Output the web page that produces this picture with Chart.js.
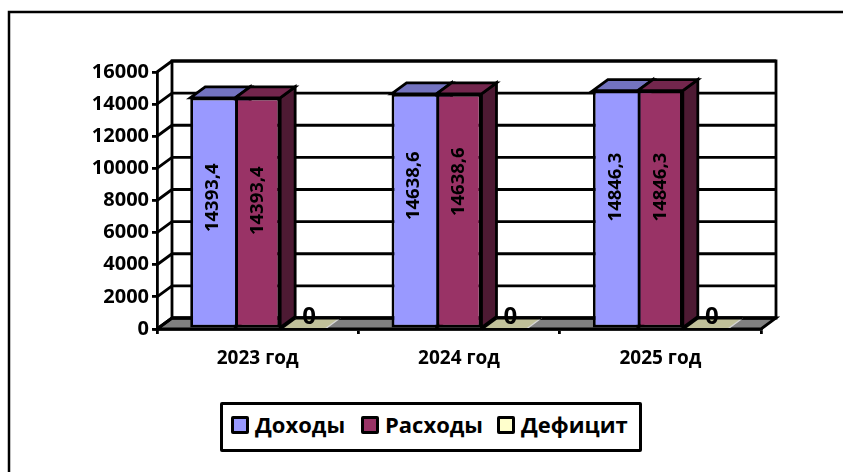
<!DOCTYPE html>
<html lang="ru">
<head>
<meta charset="utf-8">
<title>Доходы и расходы</title>
<script src="https://cdn.jsdelivr.net/npm/chart.js@4"></script>
<style>
  html, body { margin: 0; background: #fff; }
  #wrap { position: relative; width: 843px; height: 472px; overflow: hidden; }
  #legend {
    position: absolute; left: 220px; top: 402px; width: 416px; height: 44px;
    border: 3px solid #000; border-radius: 2px; background: #fff;
    font: bold 22px "Open Sans", sans-serif; color: #000;
  }
  #legend span { position: absolute; top: 4px; line-height: 30px; white-space: nowrap; }
  #legend i { position: absolute; top: 11px; width: 12px; height: 12px; border: 3px solid #000; border-radius: 2px; }
</style>
</head>
<body>
<div id="wrap">
  <canvas id="c" width="843" height="472"></canvas>
  <div id="legend"></div>
</div>
<script>
  const categories = ["2023 год", "2024 год", "2025 год"];
  const income = [14393.4, 14638.6, 14846.3];
  const expense = [14393.4, 14638.6, 14846.3];
  const deficit = [0, 0, 0];
  const seriesNames = ["Доходы", "Расходы", "Дефицит"];
  const yTicks = [0, 2000, 4000, 6000, 8000, 10000, 12000, 14000, 16000];

  const frontColors = ["#9999ff", "#993366", "#ffffcc"];
  const topColors = ["#7373c0", "#73264d", "#c0c099"];
  const sideColors = ["#4d4d80", "#4d1a33", "#808066"];
  // the labels do not sit exactly mid-bar in the original
  const labelShift = [[-15, -25, -22], [-12, -29, -22], [0, 0, 0]];
  const legendBoxX = [8, 138, 274];
  const legendTextX = [32, 162, 298];

  const DX = 15, DY = 11; // depth of the fake 3d
  const LINE = 2.8;
  const FONT = '"Open Sans", sans-serif';

  function poly(ctx, pts, fill) {
    ctx.beginPath();
    pts.forEach((p, i) => i ? ctx.lineTo(p[0], p[1]) : ctx.moveTo(p[0], p[1]));
    ctx.closePath();
    if (fill) { ctx.fillStyle = fill; ctx.fill(); }
  }

  function fmtValue(v) {
    return v === 0 ? "0" : v.toFixed(1).replace(".", ",");
  }

  const box3d = {
    id: "box3d",
    beforeDraw(chart) {
      // frame: only top and left edges are in the picture
      const ctx = chart.ctx;
      ctx.save();
      ctx.strokeStyle = "#000";
      ctx.lineWidth = 2.5;
      ctx.beginPath();
      ctx.moveTo(9, 472); ctx.lineTo(9, 12); ctx.lineTo(843, 12);
      ctx.stroke();
      ctx.restore();
    },
    beforeDatasetsDraw(chart) {
      const ctx = chart.ctx, a = chart.chartArea, y = chart.scales.y;
      ctx.save();
      ctx.strokeStyle = "#000";
      ctx.lineWidth = LINE;
      ctx.lineJoin = "miter";

      // floor
      poly(ctx, [[a.left, a.bottom], [a.left + DX, a.bottom - DY], [a.right + DX, a.bottom - DY], [a.right, a.bottom]], "#808080");
      ctx.stroke();

      // back wall
      poly(ctx, [[a.left + DX, a.top - DY], [a.right + DX, a.top - DY], [a.right + DX, a.bottom - DY], [a.left + DX, a.bottom - DY]]);
      ctx.stroke();

      // grid on the back wall and the left wall
      yTicks.forEach(v => {
        const py = y.getPixelForValue(v);
        ctx.beginPath();
        ctx.moveTo(a.left, py);
        ctx.lineTo(a.left + DX, py - DY);
        ctx.lineTo(a.right + DX, py - DY);
        ctx.stroke();
      });

      // tops and sides, the fronts come from the bar elements
      chart.data.datasets.forEach((ds, i) => {
        chart.getDatasetMeta(i).data.forEach((bar, j) => {
          const l = bar.x - bar.width / 2, r = bar.x + bar.width / 2;
          const flat = ds.data[j] === 0;
          poly(ctx, [[r, bar.y], [r + DX, bar.y - DY], [r + DX, bar.base - DY], [r, bar.base]], sideColors[i]);
          if (!flat) ctx.stroke();
          poly(ctx, [[l, bar.y], [l + DX, bar.y - DY], [r + DX, bar.y - DY], [r, bar.y]], topColors[i]);
          if (!flat) {
            ctx.stroke();
          } else {
            ctx.beginPath(); ctx.moveTo(l, bar.y); ctx.lineTo(l + DX, bar.y - DY); ctx.stroke();
            ctx.beginPath(); ctx.moveTo(r, bar.y); ctx.lineTo(r + DX, bar.y - DY);
            ctx.save(); ctx.strokeStyle = "#d8d8d8"; ctx.lineWidth = 1.2; ctx.stroke(); ctx.restore();
            ctx.beginPath(); ctx.moveTo(l + DX, bar.y - DY); ctx.lineTo(r + DX, bar.y - DY); ctx.stroke();
          }
        });
      });
      ctx.restore();
    },
    afterDatasetsDraw(chart) {
      const ctx = chart.ctx;
      ctx.save();
      ctx.fillStyle = "#000";
      ctx.textAlign = "center";
      ctx.textBaseline = "middle";
      chart.data.datasets.forEach((ds, i) => {
        chart.getDatasetMeta(i).data.forEach((bar, j) => {
          const v = ds.data[j];
          if (v === 0) {
            ctx.font = "bold 24px " + FONT;
            ctx.fillText(fmtValue(v), bar.x + DX / 2 - 1, bar.base - DY - 1);
            return;
          }
          ctx.save();
          ctx.font = "bold 18.5px " + FONT;
          ctx.translate(bar.x, (bar.y + bar.base) / 2 + labelShift[i][j]);
          ctx.rotate(-Math.PI / 2);
          ctx.fillText(fmtValue(v), 0, 0);
          ctx.restore();
        });
      });
      ctx.restore();
    }
  };

  const chart = new Chart(document.getElementById("c"), {
    type: "bar",
    data: {
      labels: categories,
      datasets: [income, expense, deficit].map((data, i) => ({
        label: seriesNames[i],
        data,
        backgroundColor: frontColors[i],
        borderColor: "#000",
        // neighbouring bars share one divider line
        borderWidth: { top: LINE, bottom: LINE, left: LINE, right: i === 0 ? 0 : LINE },
        borderSkipped: false,
        barPercentage: 1,
        categoryPercentage: 0.67,
      })),
    },
    options: {
      responsive: false,
      animation: false,
      layout: { padding: { top: 72, left: 82, right: 82, bottom: 83 } },
      plugins: { legend: { display: false }, tooltip: { enabled: false } },
      scales: {
        x: {
          afterFit: (s) => { s.height = 60; },
          border: { color: "#000", width: LINE, z: 1 },
          grid: { drawOnChartArea: false, color: "#000", lineWidth: LINE, tickLength: 5 },
          ticks: { color: "#000", padding: 13, font: { family: FONT, weight: "bold", size: 19 } },
        },
        y: {
          min: 0,
          max: 16000,
          afterFit: (s) => { s.width = 75; },
          afterBuildTicks: (s) => { s.ticks = yTicks.map(value => ({ value })); },
          border: { color: "#000", width: LINE, z: 1 },
          grid: { drawOnChartArea: false, color: "#000", lineWidth: LINE, tickLength: 5 },
          ticks: { color: "#000", padding: 3, callback: (v) => String(v), font: { family: FONT, weight: "bold", size: 20 } },
        },
      },
    },
    plugins: [box3d],
  });

  // legend is html so the swatch/text gap can follow the original
  const legend = document.getElementById("legend");
  chart.data.datasets.forEach((ds, i) => {
    const sw = document.createElement("i");
    sw.style.left = legendBoxX[i] + "px";
    sw.style.background = ds.backgroundColor;
    const tx = document.createElement("span");
    tx.style.left = legendTextX[i] + "px";
    tx.textContent = ds.label;
    legend.append(sw, tx);
  });
</script>
</body>
</html>
